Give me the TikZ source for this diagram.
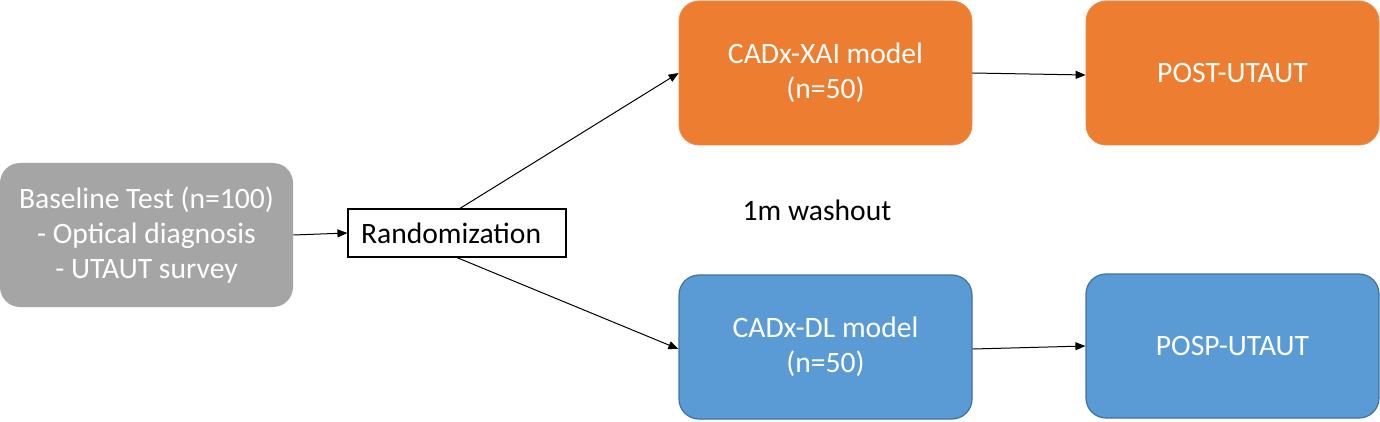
\documentclass[tikz,border=0pt]{standalone}
\usepackage{fontspec}
\setmainfont{Carlito}
\usetikzlibrary{arrows.meta}
\definecolor{boxgray}{HTML}{A5A5A5}
\definecolor{boxorange}{HTML}{ED7D31}
\definecolor{boxblue}{HTML}{5B9BD5}
\definecolor{edgeblue}{HTML}{41719C}
\tikzset{
  stage/.style={rounded corners=10pt, minimum width=146.5pt, minimum height=72pt,
    text=white, align=center, font=\fontsize{14.8}{17.5}\selectfont},
  flow/.style={-{Triangle[length=5pt,width=4pt]}, line width=0.5pt}
}
\begin{document}
\begin{tikzpicture}[x=0.5pt,y=-0.5pt]
    \useasboundingbox (0,0) rectangle (1380,422);
    \node[stage, fill=boxgray] (base) at (146.5,235) {Baseline Test (n=100)\\- Optical diagnosis\\- UTAUT survey};
    \node[draw, line width=0.6pt, text width=96pt, inner xsep=6.5pt, align=left,
      minimum height=24pt, font=\fontsize{14.8}{17.5}\selectfont] (rand) at (457,233) {Randomization};
    \node[stage, fill=boxorange, draw=boxorange!90!white] (xai) at (825.5,73) {CADx-XAI model\\(n=50)};
    \node[stage, fill=boxorange, draw=boxorange!90!white] (post) at (1232.5,73) {POST-UTAUT};
    \node[stage, fill=boxblue, draw=edgeblue, line width=0.6pt] (dl) at (825.5,347) {CADx-DL model\\(n=50)};
    \node[stage, fill=boxblue, draw=edgeblue, line width=0.6pt] (posp) at (1232.5,346) {POSP-UTAUT};
    \node[font=\fontsize{14.8}{17.5}\selectfont] (wash) at (817,210) {1m washout};
    \draw[flow] (base.east) -- (rand.west);
    \draw[flow] ([xshift=1.5pt]rand.north) -- (xai.west);
    \draw[flow] (rand.south) -- ([yshift=-1pt]dl.west);
    \draw[flow] (xai.east) -- ([yshift=-1pt]post.west);
    \draw[flow] ([yshift=-1pt]dl.east) -- (posp.west);
\end{tikzpicture}
\end{document}
